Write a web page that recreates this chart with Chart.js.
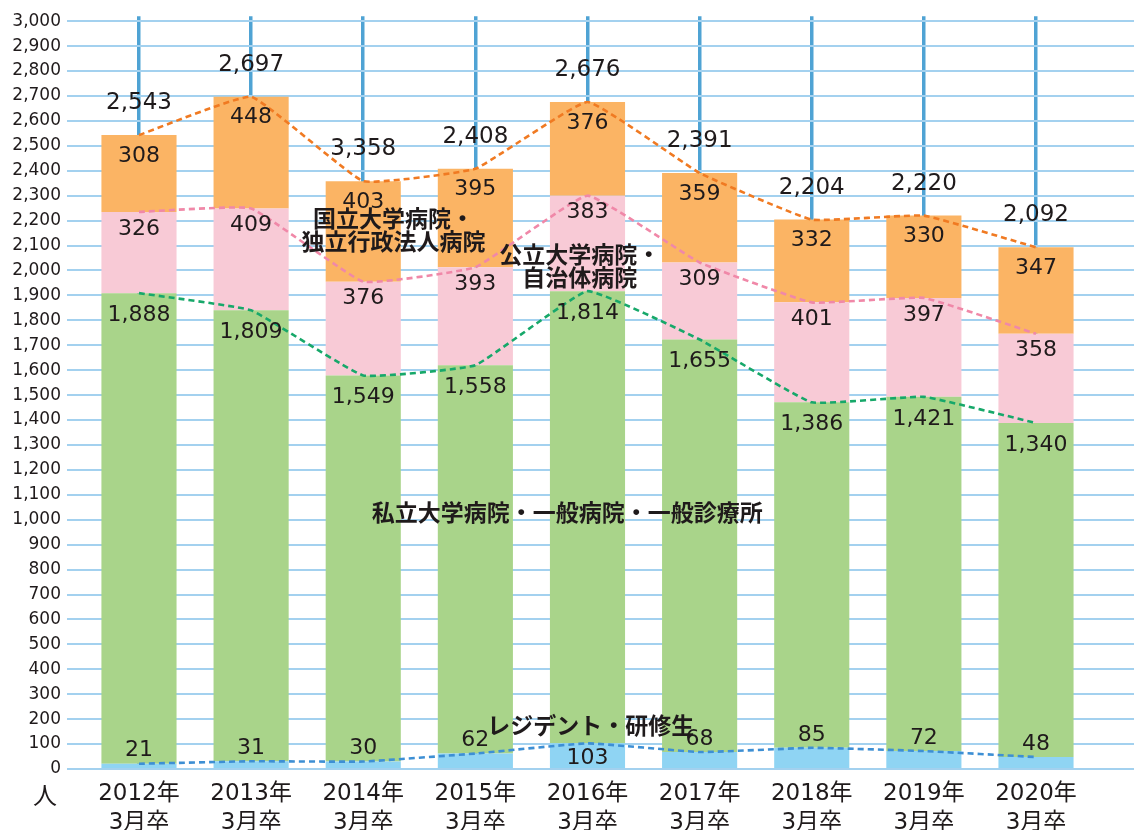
<!DOCTYPE html>
<html>
<head>
<meta charset="utf-8">
<script src="https://cdn.jsdelivr.net/npm/chart.js@4/dist/chart.umd.min.js"></script>
<style>
  html, body { margin: 0; padding: 0; background: #fff; }
  #chart { display: block; }
</style>
</head>
<body>
<canvas id="chart" width="1134" height="830"></canvas>
<script>
// categories (x axis, two lines)
const years = ['2012年', '2013年', '2014年', '2015年', '2016年', '2017年', '2018年', '2019年', '2020年'];
const gradLine = '3月卒';

// series values (bottom to top of each stack)
const residents = [21, 31, 30, 62, 103, 68, 85, 72, 48];              // レジデント・研修生
const privateHosp = [1888, 1809, 1549, 1558, 1814, 1655, 1386, 1421, 1340]; // 私立大学病院・一般病院・一般診療所
const publicHosp = [326, 409, 376, 393, 383, 309, 401, 397, 358];     // 公立大学病院・自治体病院
const nationalHosp = [308, 448, 403, 395, 376, 359, 332, 330, 347];   // 国立大学病院・独立行政法人病院

// totals as printed above the bars
const totals = ['2,543', '2,697', '3,358', '2,408', '2,676', '2,391', '2,204', '2,220', '2,092'];

// y tick values
const yTicks = Array.from({ length: 31 }, (_, i) => i * 100);

const NUM_FONT = '"DejaVu Sans", "Noto Sans CJK JP", sans-serif';
const JP_FONT = '"Noto Sans CJK JP", sans-serif';
const TEXT = '#1f1a1b';

// floating series names (placed in data units)
const notes = [
  { lines: ['国立大学病院・', '独立行政法人病院'], x: 2.27, y: 2162 },
  { lines: ['公立大学病院・', '自治体病院'], x: 3.93, y: 2018 },
  { lines: ['私立大学病院・一般病院・一般診療所'], x: 3.82, y: 1028 },
  { lines: ['レジデント・研修生'], x: 4.03, y: 176 }
];

const pts = arr => arr.map((v, i) => ({ x: i, y: v }));

function barSet(data, color, labelOffset) {
  return {
    type: 'bar', stack: 'bars', order: 2,
    data: pts(data), backgroundColor: color, borderWidth: 0,
    barPercentage: 0.67, categoryPercentage: 1,
    labelOffset: labelOffset
  };
}

function lineSet(data, color) {
  return {
    type: 'line', stack: 'lines', order: 1,
    data: pts(data), borderColor: color, borderWidth: 2.6,
    borderDash: [6, 4], pointRadius: 0, fill: false, tension: 0.1
  };
}

const labelPlugin = {
  id: 'valueLabels',
  afterDatasetsDraw(chart) {
    const ctx = chart.ctx;
    const xs = chart.scales.x, ys = chart.scales.y;
    ctx.save();
    ctx.fillStyle = TEXT;
    ctx.textAlign = 'center';
    ctx.textBaseline = 'middle';
    ctx.font = '22px ' + NUM_FONT;
    let topBars = null;
    chart.data.datasets.forEach((ds, di) => {
      if (ds.type !== 'bar') return;
      const meta = chart.getDatasetMeta(di);
      meta.data.forEach((bar, i) => {
        const v = ds.data[i].y;
        let y = bar.y + ds.labelOffset;
        if (ds.labelOffset < 0 && v >= 100) y = bar.y + 15;
        ctx.fillText(v.toLocaleString('en-US'), bar.x, y);
      });
      topBars = meta.data;
    });
    // totals
    ctx.font = '23px ' + NUM_FONT;
    topBars.forEach((bar, i) => ctx.fillText(totals[i], bar.x, bar.y - 32));

    // series names
    ctx.font = 'bold 23px ' + JP_FONT;
    notes.forEach(n => {
      const cx = xs.getPixelForValue(n.x);
      const cy = ys.getPixelForValue(n.y);
      const lh = 23;
      n.lines.forEach((t, k) => {
        ctx.fillText(t, cx, cy + (k - (n.lines.length - 1) / 2) * lh);
      });
    });

    // unit label
    ctx.font = '24px ' + JP_FONT;
    ctx.fillText('人', 45, chart.chartArea.bottom + 26);
    ctx.restore();
  }
};

new Chart(document.getElementById('chart'), {
  type: 'bar',
  data: {
    datasets: [
      lineSet(residents, '#3d8fd4'),
      lineSet(privateHosp, '#17a86a'),
      lineSet(publicHosp, '#f088a8'),
      lineSet(nationalHosp, '#f07a22'),
      barSet(residents, '#8fd4f3', -13),
      barSet(privateHosp, '#a9d48a', 22),
      barSet(publicHosp, '#f8cad6', 17),
      barSet(nationalHosp, '#fbb464', 21)
    ]
  },
  options: {
    responsive: false,
    animation: false,
    layout: { padding: { top: 14, left: 0, right: 0, bottom: 0 } },
    plugins: { legend: { display: false }, tooltip: { enabled: false } },
    scales: {
      x: {
        type: 'linear',
        stacked: true,
        offset: false,
        min: -0.642,
        max: 8.874,
        afterBuildTicks: axis => { axis.ticks = years.map((_, i) => ({ value: i })); },
        afterFit: scale => { scale.height = 61; },
        grid: { color: '#4fa3d4', lineWidth: 3.5, drawTicks: false, offset: false },
        border: { display: false },
        ticks: {
          callback: v => [years[v], gradLine],
          color: TEXT,
          font: { family: NUM_FONT, size: 23, lineHeight: 1.28 },
          padding: 10,
          maxRotation: 0
        }
      },
      y: {
        stacked: true,
        min: 0,
        max: 3020,
        afterBuildTicks: axis => { axis.ticks = yTicks.map(v => ({ value: v })); },
        afterFit: scale => { scale.width = 67; },
        grid: { color: '#a3d1ef', lineWidth: 2, drawTicks: false },
        border: { display: false },
        ticks: {
          callback: v => v.toLocaleString('en-US'),
          color: TEXT,
          font: { family: NUM_FONT, size: 17 },
          padding: 6
        }
      }
    }
  },
  plugins: [labelPlugin]
});
</script>
</body>
</html>
